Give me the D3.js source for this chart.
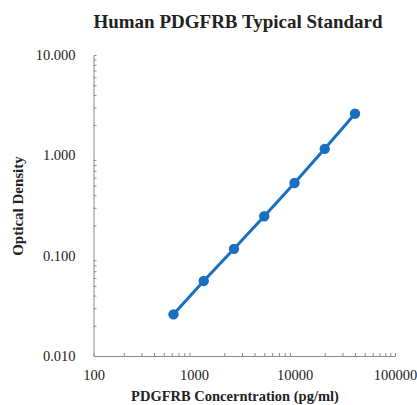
<!DOCTYPE html>
<html><head><meta charset="utf-8">
<script src="https://cdn.jsdelivr.net/npm/d3@7"></script>
<style>body{margin:0;background:#fff}svg{display:block}</style>
</head><body>
<svg id="c" width="417" height="405"></svg>
<script>
const concentrations = [625, 1250, 2500, 5000, 10000, 20000, 40000];
const opticalDensity = [0.026, 0.056, 0.117, 0.247, 0.53, 1.16, 2.6];
const xTickValues = [100, 1000, 10000, 100000];
const xTickLabels = ["100", "1000", "10000", "100000"];
const yTickValues = [0.01, 0.1, 1, 10];
const yTickLabels = ["0.010", "0.100", "1.000", "10.000"];
const title = "Human PDGFRB Typical Standard";
const xTitle = "PDGFRB Concerntration (pg/ml)";
const yTitle = "Optical Density";

(function () {
const svg = d3.select("#c");
const mLeft = 93.5, mRight = 395, mTop = 55, mBottom = 356;
const x = d3.scaleLog().domain([100, 100000]).range([mLeft, mRight]);
const y = d3.scaleLog().domain([0.01, 10]).range([mBottom, mTop]);
const axisColor = "#8c8c8c";
const serif = "'Liberation Serif','Times New Roman',serif";

const minorX = [], minorY = [];
for (let d = 100; d < 100000; d *= 10) for (let k = 2; k <= 9; k++) minorX.push(d * k);
for (let d = 0.01; d < 9.9; d *= 10) for (let k = 2; k <= 9; k++) minorY.push(+(d * k).toPrecision(3));

const gx = svg.append("g").attr("transform", `translate(0,${mBottom})`)
  .call(d3.axisBottom(x).tickValues(minorX).tickSize(-3).tickFormat(""));
const gy = svg.append("g").attr("transform", `translate(${mLeft},0)`)
  .call(d3.axisLeft(y).tickValues(minorY).tickSize(-3).tickFormat(""));
[gx, gy].forEach(g => {
  g.selectAll("path.domain").attr("stroke", axisColor).attr("stroke-width", 1);
  g.selectAll(".tick line").attr("stroke", axisColor);
});

const gxl = svg.append("g").attr("transform", `translate(0,${mBottom})`)
  .call(d3.axisBottom(x).tickValues(xTickValues).tickSize(0).tickPadding(14)
    .tickFormat((d, i) => xTickLabels[i]));
gxl.select("path.domain").remove();
gxl.selectAll("text").attr("font-family", serif).attr("font-size", 14.5).attr("fill", "#222");

const gyl = svg.append("g").attr("transform", `translate(${mLeft},0)`)
  .call(d3.axisLeft(y).tickValues(yTickValues).tickSize(0).tickPadding(18)
    .tickFormat((d, i) => yTickLabels[i]));
gyl.select("path.domain").remove();
gyl.selectAll("text").attr("font-family", serif).attr("font-size", 14.5).attr("fill", "#222");

const data = concentrations.map((c, i) => ({c, od: opticalDensity[i]}));
svg.append("path").datum(data)
  .attr("fill", "none").attr("stroke", "#1a6fc2").attr("stroke-width", 3)
  .attr("d", d3.line().x(d => x(d.c)).y(d => y(d.od)));
svg.append("g").selectAll("circle").data(data).join("circle")
  .attr("cx", d => x(d.c)).attr("cy", d => y(d.od)).attr("r", 5.2)
  .attr("fill", "#1a6fc2");

svg.append("text").attr("x", 238).attr("y", 28).attr("text-anchor", "middle")
  .attr("font-family", serif).attr("font-weight", "bold").attr("font-size", 19)
  .attr("fill", "#222").text(title);
svg.append("text").attr("x", 235).attr("y", 401).attr("text-anchor", "middle")
  .attr("font-family", serif).attr("font-weight", "bold").attr("font-size", 14.5)
  .attr("fill", "#222").text(xTitle);
svg.append("text").attr("transform", "translate(23,206) rotate(-90)").attr("text-anchor", "middle")
  .attr("font-family", serif).attr("font-weight", "bold").attr("font-size", 15)
  .attr("fill", "#222").text(yTitle);
})();
</script>
</body></html>
